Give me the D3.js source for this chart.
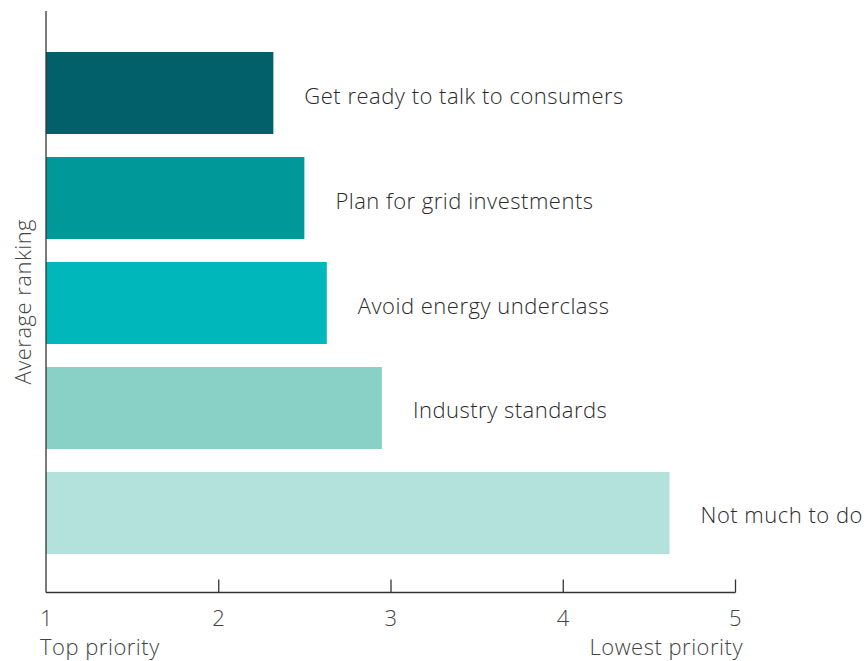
<!DOCTYPE html>
<html>
<head>
<meta charset="utf-8">
<script src="https://cdn.jsdelivr.net/npm/d3@7"></script>
<style>
  html, body { margin: 0; padding: 0; background: #fff; }
  svg text { font-family: "Open Sans", "Liberation Sans", sans-serif; font-weight: 300; letter-spacing: 0.5px; }
</style>
</head>
<body>
<svg id="chart" width="866" height="661"></svg>
<script>
// Average ranking of priorities (1 = top priority, 5 = lowest priority)
const categories = [
  "Get ready to talk to consumers",
  "Plan for grid investments",
  "Avoid energy underclass",
  "Industry standards",
  "Not much to do"
];
const values = [2.32, 2.50, 2.63, 2.95, 4.62];
const barColors = ["#02606b", "#01989a", "#00b7bc", "#89d0c7", "#b3e1dc"];
const tickValues = [1, 2, 3, 4, 5];
const axisTitle = "Average ranking";
const leftNote = "Top priority";
const rightNote = "Lowest priority";

const svg = d3.select("#chart");
const fontSize = 22;

const x = d3.scaleLinear().domain([1, 5]).range([46, 735]);
const y = d3.scaleBand().domain(categories).range([31, 575]).paddingInner(0.219).paddingOuter(0.2);

const axisColor = "#333";
const baseY = 592.5;

// bars
svg.append("g").selectAll("rect")
  .data(categories)
  .join("rect")
  .attr("x", x(1))
  .attr("y", d => y(d))
  .attr("width", (d, i) => x(values[i]) - x(1))
  .attr("height", y.bandwidth())
  .attr("fill", (d, i) => barColors[i]);

// bar labels
svg.append("g").selectAll("text")
  .data(categories)
  .join("text")
  .attr("x", (d, i) => x(values[i]) + 31)
  .attr("y", d => y(d) + y.bandwidth() / 2 + 10.5)
  .attr("font-size", fontSize)
  .attr("fill", "#2b2b2b")
  .text(d => d);

// x axis with inward ticks
const xAxis = d3.axisBottom(x)
  .tickValues(tickValues)
  .tickSize(-13)
  .tickPadding(0)
  .tickFormat(d3.format("d"));

const gx = svg.append("g")
  .attr("transform", `translate(0,${baseY})`)
  .call(xAxis);
gx.select(".domain").remove();
gx.append("line")
  .attr("x1", x(1)).attr("x2", x(5) + 0.5)
  .attr("stroke", axisColor).attr("stroke-width", 1.3);
gx.selectAll(".tick line").attr("stroke", axisColor).attr("stroke-width", 1.3);
gx.selectAll(".tick").filter(d => d === 1).select("line").remove();
gx.selectAll(".tick text")
  .attr("y", 33.5)
  .attr("dy", null)
  .attr("font-size", fontSize)
  .attr("fill", "#444")
  .style("font-family", "'Open Sans', 'Liberation Sans', sans-serif")
  .style("font-weight", 300);

// y axis line
svg.append("line")
  .attr("x1", x(1)).attr("x2", x(1))
  .attr("y1", 11).attr("y2", baseY)
  .attr("stroke", axisColor).attr("stroke-width", 1.3);

// axis title
svg.append("text")
  .attr("transform", `translate(31,${(11 + baseY) / 2}) rotate(-90)`)
  .attr("text-anchor", "middle")
  .attr("font-size", fontSize)
  .attr("fill", "#444")
  .text(axisTitle);

// end notes
svg.append("text")
  .attr("x", 40).attr("y", 655)
  .attr("font-size", fontSize)
  .attr("fill", "#444")
  .text(leftNote);
svg.append("text")
  .attr("x", 743).attr("y", 655)
  .attr("text-anchor", "end")
  .attr("font-size", fontSize)
  .attr("fill", "#444")
  .text(rightNote);
</script>
</body>
</html>
